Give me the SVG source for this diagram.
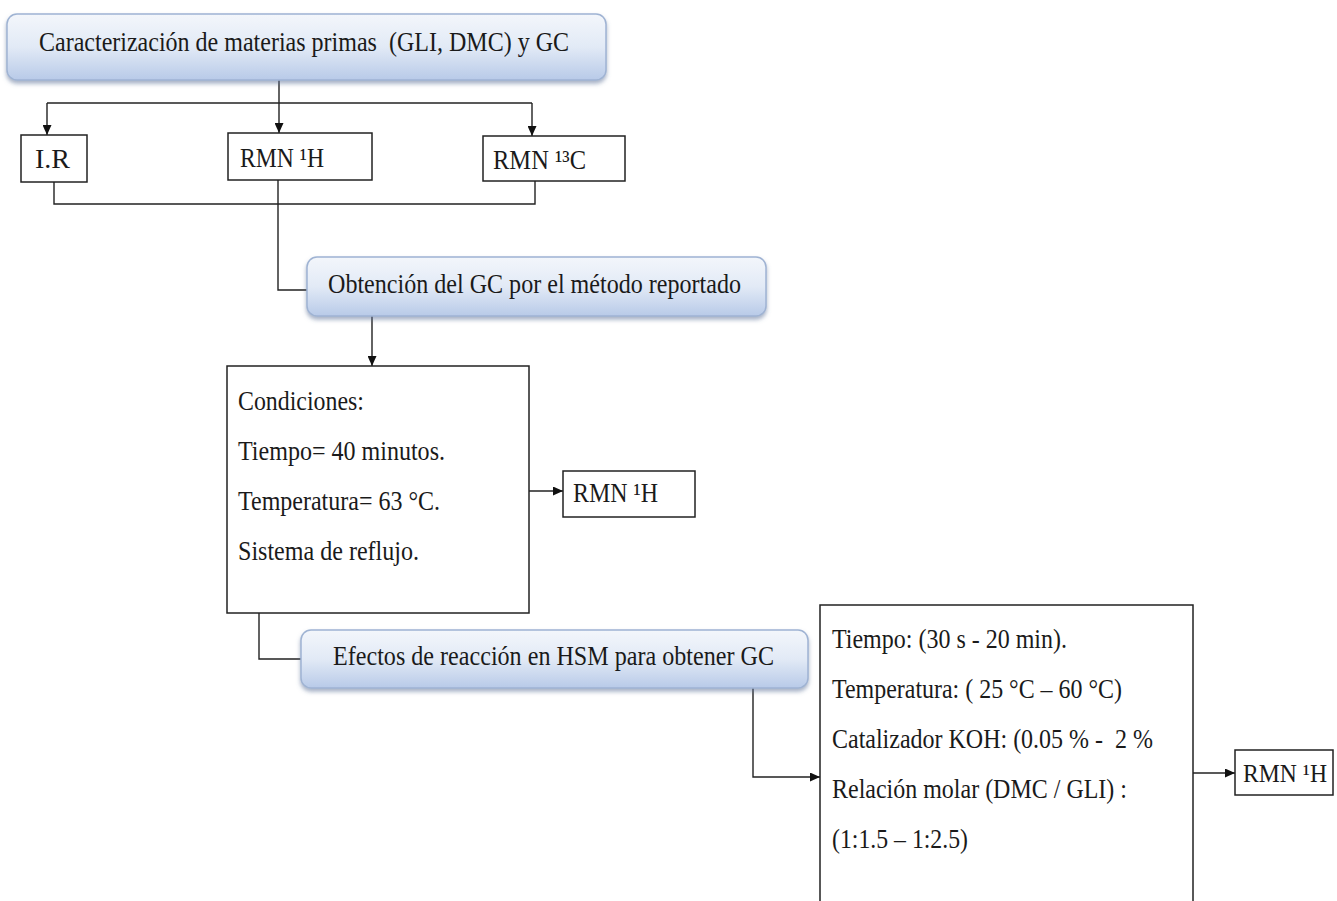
<svg xmlns="http://www.w3.org/2000/svg" width="1337" height="901" viewBox="0 0 1337 901">
<defs>
<linearGradient id="blueGrad" x1="0" y1="0" x2="0" y2="1">
<stop offset="0" stop-color="#f3f6fb"/>
<stop offset="0.5" stop-color="#e2eaf6"/>
<stop offset="1" stop-color="#b8cae8"/>
</linearGradient>
<filter id="shadow" x="-5%" y="-20%" width="110%" height="150%">
<feDropShadow dx="0" dy="3" stdDeviation="2" flood-color="#5d7197" flood-opacity="0.55"/>
</filter>
<marker id="arrow" markerUnits="userSpaceOnUse" markerWidth="10" markerHeight="9" refX="10" refY="4.5" orient="auto">
<path d="M0,0 L10,4.5 L0,9 z" fill="#111"/>
</marker>
<style>
.t{font-family:"Liberation Serif","Times New Roman",serif;font-size:27px;fill:#1a1a1a;white-space:pre}
.rbox{fill:url(#blueGrad);stroke:#9fb3d3;stroke-width:1.5;filter:url(#shadow)}
.box{fill:#ffffff;stroke:#222;stroke-width:1.5}
.conn{fill:none;stroke:#222;stroke-width:1.4}
</style>
</defs>
<rect width="1337" height="901" fill="#ffffff"/>

<g id="connectors">
<path class="conn" d="M279,80 V133" marker-end="url(#arrow)"/>
<path class="conn" d="M47,103 H532"/>
<path class="conn" d="M47,103 V135" marker-end="url(#arrow)"/>
<path class="conn" d="M532,103 V136" marker-end="url(#arrow)"/>
<path class="conn" d="M54,182 V204 H535 V181"/>
<path class="conn" d="M278,180 V290 H307"/>
<path class="conn" d="M372,316 V366" marker-end="url(#arrow)"/>
<path class="conn" d="M529,491 H563" marker-end="url(#arrow)"/>
<path class="conn" d="M259,613 V659 H301"/>
<path class="conn" d="M753,688 V777 H820" marker-end="url(#arrow)"/>
<path class="conn" d="M1193,773 H1235" marker-end="url(#arrow)"/>
</g>

<g id="node-caracterizacion">
<rect class="rbox" x="7" y="14" width="599" height="66" rx="10"/>
<text class="t" x="39" y="51" textLength="530" lengthAdjust="spacingAndGlyphs">Caracterización de materias primas  (GLI, DMC) y GC</text>
</g>

<g id="node-ir">
<rect class="box" x="21" y="135" width="66" height="47"/>
<text class="t" x="35" y="168" textLength="35" lengthAdjust="spacingAndGlyphs">I.R</text>
</g>

<g id="node-rmn1h-top">
<rect class="box" x="228" y="133" width="144" height="47"/>
<text class="t" x="240" y="167" textLength="84" lengthAdjust="spacingAndGlyphs">RMN ¹H</text>
</g>

<g id="node-rmn13c">
<rect class="box" x="483" y="136" width="142" height="45"/>
<text class="t" x="493" y="169" textLength="93" lengthAdjust="spacingAndGlyphs">RMN ¹³C</text>
</g>

<g id="node-obtencion">
<rect class="rbox" x="307" y="257" width="459" height="59" rx="10"/>
<text class="t" x="328" y="293" textLength="413" lengthAdjust="spacingAndGlyphs">Obtención del GC por el método reportado</text>
</g>

<g id="node-condiciones">
<rect class="box" x="227" y="366" width="302" height="247"/>
<text class="t" x="238" y="410" textLength="126" lengthAdjust="spacingAndGlyphs">Condiciones:</text>
<text class="t" x="238" y="460" textLength="207" lengthAdjust="spacingAndGlyphs">Tiempo= 40 minutos.</text>
<text class="t" x="238" y="510" textLength="202" lengthAdjust="spacingAndGlyphs">Temperatura= 63 °C.</text>
<text class="t" x="238" y="560" textLength="181" lengthAdjust="spacingAndGlyphs">Sistema de reflujo.</text>
</g>

<g id="node-rmn1h-mid">
<rect class="box" x="563" y="471" width="132" height="46"/>
<text class="t" x="573" y="502" textLength="85" lengthAdjust="spacingAndGlyphs">RMN ¹H</text>
</g>

<g id="node-efectos">
<rect class="rbox" x="301" y="630" width="507" height="58" rx="10"/>
<text class="t" x="333" y="665" textLength="441" lengthAdjust="spacingAndGlyphs">Efectos de reacción en HSM para obtener GC</text>
</g>

<g id="node-condiciones-hsm">
<rect class="box" x="820" y="605" width="373" height="310"/>
<text class="t" x="832" y="648" textLength="235" lengthAdjust="spacingAndGlyphs">Tiempo: (30 s - 20 min).</text>
<text class="t" x="832" y="698" textLength="290" lengthAdjust="spacingAndGlyphs">Temperatura: ( 25 °C – 60 °C)</text>
<text class="t" x="832" y="748" textLength="321" lengthAdjust="spacingAndGlyphs">Catalizador KOH: (0.05 % -  2 %</text>
<text class="t" x="832" y="798" textLength="295" lengthAdjust="spacingAndGlyphs">Relación molar (DMC / GLI) :</text>
<text class="t" x="832" y="848" textLength="136" lengthAdjust="spacingAndGlyphs">(1:1.5 – 1:2.5)</text>
</g>

<g id="node-rmn1h-right">
<rect class="box" x="1235" y="750" width="98" height="45"/>
<text class="t" x="1243" y="782" font-size="25" style="font-size:25px" textLength="84" lengthAdjust="spacingAndGlyphs">RMN ¹H</text>
</g>
</svg>
